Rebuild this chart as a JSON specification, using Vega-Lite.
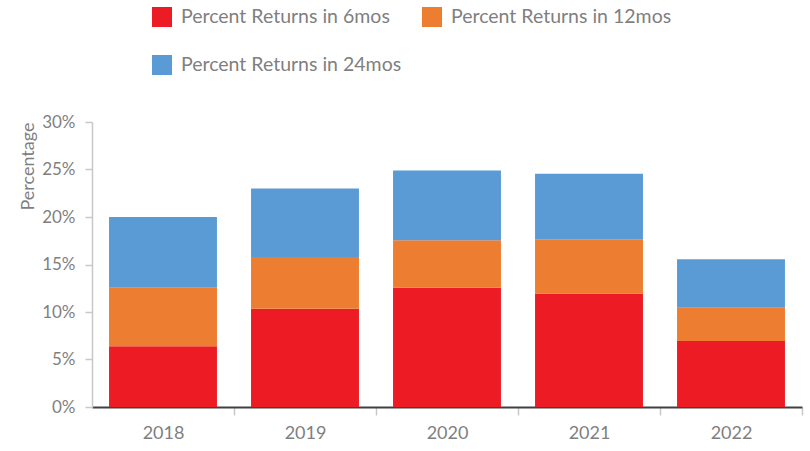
{
  "$schema": "https://vega.github.io/schema/vega-lite/v6.json",
  "width": 710,
  "height": 285,
  "autosize": {"type": "none"},
  "padding": {"left": 92, "top": 122, "right": 8, "bottom": 44},
  "background": "white",
  "config": {
    "view": {"stroke": null},
    "font": "Lato"
  },
  "data": {
    "values": [
      {"year": "2018", "series": "Percent Returns in 6mos", "k": 0, "value": 0.064},
      {"year": "2018", "series": "Percent Returns in 12mos", "k": 1, "value": 0.0615},
      {"year": "2018", "series": "Percent Returns in 24mos", "k": 2, "value": 0.0745},
      {"year": "2019", "series": "Percent Returns in 6mos", "k": 0, "value": 0.1035},
      {"year": "2019", "series": "Percent Returns in 12mos", "k": 1, "value": 0.0545},
      {"year": "2019", "series": "Percent Returns in 24mos", "k": 2, "value": 0.072},
      {"year": "2020", "series": "Percent Returns in 6mos", "k": 0, "value": 0.1255},
      {"year": "2020", "series": "Percent Returns in 12mos", "k": 1, "value": 0.050},
      {"year": "2020", "series": "Percent Returns in 24mos", "k": 2, "value": 0.0735},
      {"year": "2021", "series": "Percent Returns in 6mos", "k": 0, "value": 0.1195},
      {"year": "2021", "series": "Percent Returns in 12mos", "k": 1, "value": 0.057},
      {"year": "2021", "series": "Percent Returns in 24mos", "k": 2, "value": 0.069},
      {"year": "2022", "series": "Percent Returns in 6mos", "k": 0, "value": 0.0695},
      {"year": "2022", "series": "Percent Returns in 12mos", "k": 1, "value": 0.035},
      {"year": "2022", "series": "Percent Returns in 24mos", "k": 2, "value": 0.051}
    ]
  },
  "mark": {"type": "bar"},
  "encoding": {
    "x": {
      "field": "year",
      "type": "nominal",
      "scale": {"paddingInner": 0.24, "paddingOuter": 0.12},
      "axis": {
        "title": null,
        "labelAngle": 0,
        "labelFontSize": 18,
        "labelColor": "#7f7f7f",
        "labelPadding": 9,
        "domainColor": "#404040",
        "domainWidth": 2,
        "tickColor": "#c8c8c8",
        "tickSize": 8,
        "tickWidth": 1.5,
        "tickOffset": 71,
        "labelOffset": -71
      }
    },
    "y": {
      "field": "value",
      "type": "quantitative",
      "stack": "zero",
      "scale": {"domain": [0, 0.3]},
      "axis": {
        "title": "Percentage",
        "values": [0, 0.05, 0.1, 0.15, 0.2, 0.25, 0.3],
        "format": ".0%",
        "grid": false,
        "labelFontSize": 17,
        "labelColor": "#7f7f7f",
        "labelPadding": 10,
        "domainColor": "#c8c8c8",
        "domainWidth": 1.5,
        "tickColor": "#c8c8c8",
        "tickSize": 7,
        "tickWidth": 1.5,
        "titleFontSize": 18,
        "titleFontWeight": "normal",
        "titleColor": "#7f7f7f",
        "titleAngle": -90,
        "titleX": -64,
        "titleY": 0,
        "titleAlign": "right",
        "titleBaseline": "middle"
      }
    },
    "color": {
      "field": "series",
      "type": "nominal",
      "sort": ["Percent Returns in 6mos", "Percent Returns in 12mos", "Percent Returns in 24mos"],
      "scale": {
        "domain": ["Percent Returns in 6mos", "Percent Returns in 12mos", "Percent Returns in 24mos"],
        "range": ["#ED1C24", "#ED7D31", "#5B9BD5"]
      },
      "legend": {
        "title": null,
        "orient": "none",
        "legendX": 60,
        "legendY": -115,
        "direction": "horizontal",
        "columns": 2,
        "columnPadding": 20,
        "rowPadding": 28,
        "symbolType": "square",
        "symbolSize": 400,
        "symbolStrokeWidth": 0,
        "labelFontSize": 19.5,
        "labelColor": "#7f7f7f",
        "labelOffset": 9,
        "labelLimit": 400
      }
    },
    "order": {"field": "k", "type": "quantitative"}
  }
}
